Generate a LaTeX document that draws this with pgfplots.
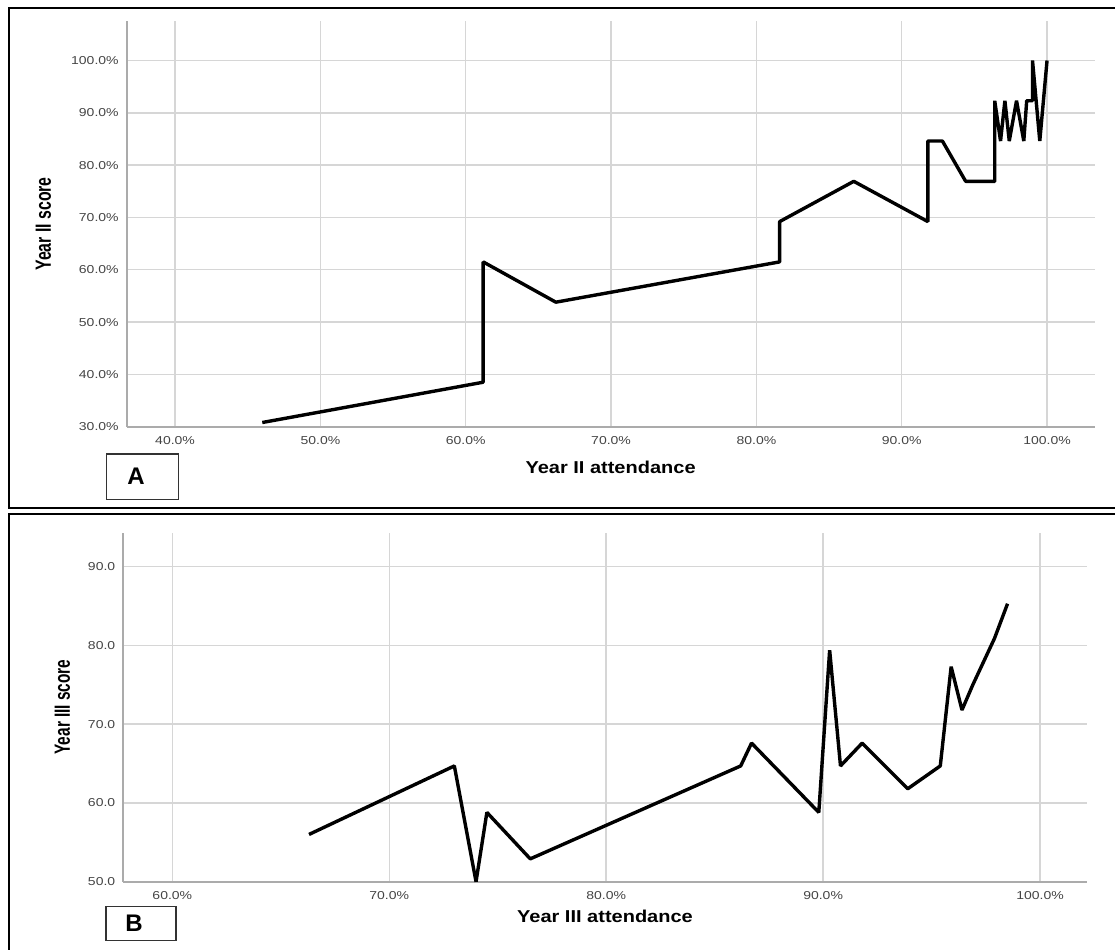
\documentclass[border=0pt]{standalone}
\usepackage{fontspec}
\setmainfont{Liberation Sans}
\usepackage{graphicx}
\usepackage{pgfplots}
\pgfplotsset{compat=1.18}
\definecolor{gridgray}{HTML}{D6D6D6}
\definecolor{spinegray}{HTML}{ABABAB}
\definecolor{ticktext}{HTML}{444444}
\newcommand\tl[1]{\scalebox{1}[0.82]{#1}}
\pgfplotsset{spss/.style={
  scale only axis, anchor=south west,
  axis x line=bottom, axis y line=left,
  axis line style={-, spinegray, line width=1pt},
  major tick length=0pt,
  grid=major, major grid style={gridgray, line width=0.75pt},
  ticklabel style={font=\fontsize{7}{8}\selectfont, text=ticktext},
  xticklabel style={yshift=-1.5pt},
  yticklabel style={xshift=-0.5pt},
  clip=false}}
\begin{document}
\begin{tikzpicture}
\useasboundingbox (0,0) rectangle (557.5pt,474.5pt);
% frames
\draw[line width=0.8pt] (570pt,470.5pt) -- (4.5pt,470.5pt) -- (4.5pt,220.5pt) -- (570pt,220.5pt);
\draw[line width=0.8pt] (570pt,217.5pt) -- (4.5pt,217.5pt) -- (4.5pt,-5pt);

\begin{axis}[spss, at={(63.35pt,261.15pt)}, width=484.15pt, height=203pt,
  xmin=36.67, xmax=103.3, ymin=30, ymax=107.6,
  xtick={40,50,60,70,80,90,100},
  xticklabels={\tl{40.0\%},\tl{50.0\%},\tl{60.0\%},\tl{70.0\%},\tl{80.0\%},\tl{90.0\%},\tl{100.0\%}},
  ytick={30,40,50,60,70,80,90,100},
  yticklabels={\tl{30.0\%},\tl{40.0\%},\tl{50.0\%},\tl{60.0\%},\tl{70.0\%},\tl{80.0\%},\tl{90.0\%},\tl{100.0\%}}]
\addplot[black, line width=1.7pt, line join=bevel] coordinates {
(46.0,30.8) (61.2,38.5) (61.2,61.5) (66.2,53.8) (81.6,61.5) (81.6,69.2)
(86.7,76.9) (91.8,69.2) (91.8,84.6) (92.8,84.6) (94.4,76.9) (96.4,76.9)
(96.4,92.3) (96.8,84.6) (97.1,92.3) (97.4,84.6) (97.9,92.3) (98.4,84.6)
(98.6,92.3) (99.0,92.3) (99.0,100) (99.5,84.6) (100,100)};
\end{axis}

\begin{axis}[spss, at={(61.65pt,33.65pt)}, width=481.7pt, height=174.6pt,
  xmin=57.74, xmax=102.15, ymin=50, ymax=94.34,
  xtick={60,70,80,90,100},
  xticklabels={\tl{60.0\%},\tl{70.0\%},\tl{80.0\%},\tl{90.0\%},\tl{100.0\%}},
  ytick={50,60,70,80,90},
  yticklabels={\tl{50.0},\tl{60.0},\tl{70.0},\tl{80.0},\tl{90.0}}]
\addplot[black, line width=1.7pt, line join=bevel] coordinates {
(66.3,56.0) (73.0,64.7) (74.0,50.0) (74.5,58.8) (76.5,52.9) (86.2,64.7)
(86.7,67.6) (89.8,58.8) (90.3,79.4) (90.8,64.7) (91.8,67.6) (93.9,61.8)
(95.4,64.7) (95.9,77.3) (96.4,71.8) (96.9,75.0) (97.9,80.9) (98.5,85.3)};
\end{axis}

% axis titles
\node[font=\bfseries\fontsize{10}{12}\selectfont] at (305.3pt,240.65pt) {\scalebox{1}[0.86]{Year II attendance}};
\node[font=\bfseries\fontsize{11}{12}\selectfont, rotate=90] at (21.75pt,362.5pt) {\scalebox{0.72}[1]{Year II score}};
\node[font=\bfseries\fontsize{10}{12}\selectfont] at (302.5pt,16.5pt) {\scalebox{1}[0.86]{Year III attendance}};
\node[font=\bfseries\fontsize{11}{12}\selectfont, rotate=90] at (31.25pt,121pt) {\scalebox{0.7}[1]{Year III score}};

% panel tags
\draw[line width=0.6pt, black!80] (53.35pt,224.85pt) rectangle (89.15pt,247.5pt);
\node[font=\bfseries\fontsize{12}{14}\selectfont] at (68pt,236.2pt) {A};
\draw[line width=0.6pt, black!80] (53pt,4.15pt) rectangle (88pt,21.15pt);
\node[font=\bfseries\fontsize{12}{14}\selectfont] at (67pt,12.65pt) {B};
\end{tikzpicture}
\end{document}
